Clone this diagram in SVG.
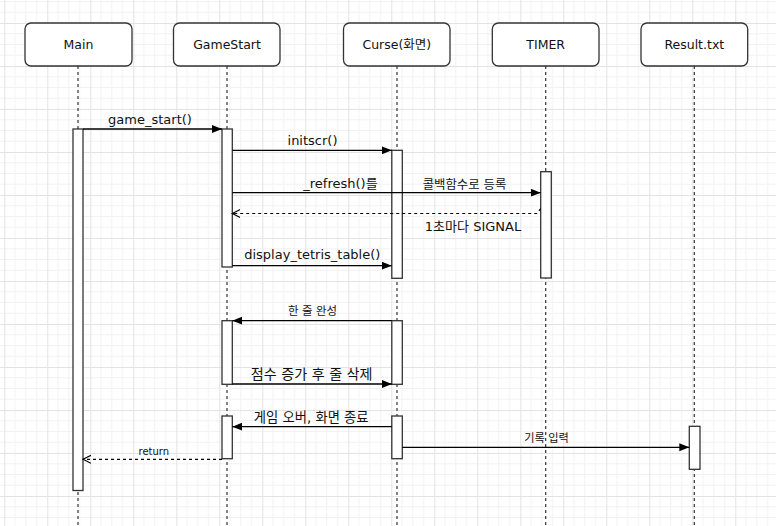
<svg xmlns="http://www.w3.org/2000/svg" width="776" height="526" viewBox="0 0 776 526">
<style>
.box{fill:#fff;stroke:#333;stroke-width:1.3}
.act{fill:#fff;stroke:#333;stroke-width:1.3}
.life{stroke:#333;stroke-width:1.2;stroke-dasharray:3 3;fill:none}
.msg{stroke:#000;stroke-width:1.3;fill:none}
.ret{stroke:#000;stroke-width:1.2;stroke-dasharray:3 3;fill:none}
text{font-family:"DejaVu Sans","Noto Sans CJK KR",sans-serif;fill:#111;text-anchor:middle}
.hd{font-size:12.5px}
.lb{font-size:13px}
</style>
<defs>
<pattern id="grid" x="4.3" y="23" width="43" height="43" patternUnits="userSpaceOnUse">
<path d="M10.75,0V43M21.5,0V43M32.25,0V43M0,10.75H43M0,21.5H43M0,32.25H43" stroke="#f2f2f2" stroke-width="1" fill="none"/>
<path d="M0.5,0V43M0,0.5H43" stroke="#e3e3e3" stroke-width="1" fill="none"/>
</pattern>
<marker id="fa" markerUnits="userSpaceOnUse" markerWidth="11" markerHeight="9" refX="10" refY="4" orient="auto" viewBox="0 0 11 9">
<path d="M0,0L10,4L0,8z" fill="#000"/>
</marker>
<marker id="oa" markerUnits="userSpaceOnUse" markerWidth="10" markerHeight="10" refX="8" refY="4.5" orient="auto" viewBox="0 0 10 10">
<path d="M0,0.5L8,4.5L0,8.5" fill="none" stroke="#000" stroke-width="1.2"/>
</marker>
</defs>
<rect width="776" height="526" fill="#fff"/>
<rect width="776" height="526" fill="url(#grid)"/>

<g id="main">
<line class="life" x1="78" y1="66" x2="78" y2="526"/>
<rect class="box" x="25" y="23" width="107" height="43" rx="6"/>
<text class="hd" x="78.5" y="48.7">Main</text>
<rect class="act" x="73" y="129" width="10" height="361.5"/>
</g>
<g id="gamestart">
<line class="life" x1="227" y1="66" x2="227" y2="526"/>
<rect class="box" x="173.5" y="23" width="106.5" height="43" rx="6"/>
<text class="hd" x="227" y="48.7">GameStart</text>
<rect class="act" x="222" y="129" width="10.3" height="138"/>
<rect class="act" x="222" y="320.7" width="10.3" height="63.6"/>
<rect class="act" x="222" y="416" width="10.3" height="42.7"/>
</g>
<g id="curse">
<line class="life" x1="397" y1="66" x2="397" y2="526"/>
<rect class="box" x="343.5" y="23" width="106.5" height="43" rx="6"/>
<text class="hd" x="396.8" y="48.7">Curse(화면)</text>
<rect class="act" x="391.8" y="150.3" width="10.5" height="128"/>
<rect class="act" x="391.8" y="320.7" width="10.5" height="63.6"/>
<rect class="act" x="391.8" y="416" width="10.5" height="42.7"/>
</g>
<g id="timer">
<line class="life" x1="545.7" y1="66" x2="545.7" y2="526"/>
<rect class="box" x="492.3" y="23" width="106.7" height="43" rx="6"/>
<text class="hd" x="545.7" y="48.7">TIMER</text>
<rect class="act" x="540.7" y="171.7" width="10.6" height="106.3"/>
</g>
<g id="result">
<line class="life" x1="694.3" y1="66" x2="694.3" y2="526"/>
<rect class="box" x="641" y="23" width="106.7" height="43" rx="6"/>
<text class="hd" x="694.3" y="48.7">Result.txt</text>
<rect class="act" x="689.3" y="426.3" width="10.7" height="43"/>
</g>

<g id="connectors">
<line class="msg" x1="83" y1="129" x2="222" y2="129" marker-end="url(#fa)"/>
<line class="msg" x1="232.3" y1="150.3" x2="391.8" y2="150.3" marker-end="url(#fa)"/>
<line class="msg" x1="232.3" y1="192.7" x2="540.7" y2="192.7" marker-end="url(#fa)"/>
<path class="ret" d="M540.7,208.5L537,213.5L232.3,213.5" marker-end="url(#oa)"/>
<line class="msg" x1="232.3" y1="265.7" x2="391.8" y2="265.7" marker-end="url(#fa)"/>
<line class="msg" x1="391.8" y1="320.7" x2="232.3" y2="320.7" marker-end="url(#fa)"/>
<line class="msg" x1="232.3" y1="384" x2="391.8" y2="384" marker-end="url(#fa)"/>
<line class="msg" x1="391.8" y1="426.7" x2="232.3" y2="426.7" marker-end="url(#fa)"/>
<path class="ret" d="M222,459.3L83,459.3" marker-end="url(#oa)"/>
<line class="msg" x1="402.3" y1="447.3" x2="689.3" y2="447.3" marker-end="url(#fa)"/>
</g>

<g id="labels">
<text class="lb" x="150" y="124">game_start()</text>
<text class="lb" x="312.5" y="145">initscr()</text>
<text class="lb" x="303.3" y="188" style="text-anchor:start">_refresh()를</text>
<text x="464.5" y="188.5" style="font-size:12.4px">콜백함수로 등록</text>
<text class="lb" x="473" y="230.7">1초마다 SIGNAL</text>
<text class="lb" x="312.3" y="259">display_tetris_table()</text>
<text x="312.5" y="314.5" style="font-size:11.4px">한 줄 완성</text>
<text x="311.7" y="378.5" style="font-size:14.1px">점수 증가 후 줄 삭제</text>
<text x="311.2" y="421.5" style="font-size:13.3px">게임 오버, 화면 종료</text>
<text x="153.8" y="455" style="font-size:10px">return</text>
<text x="546.5" y="442" style="font-size:11.2px">기록 입력</text>
</g>
</svg>
